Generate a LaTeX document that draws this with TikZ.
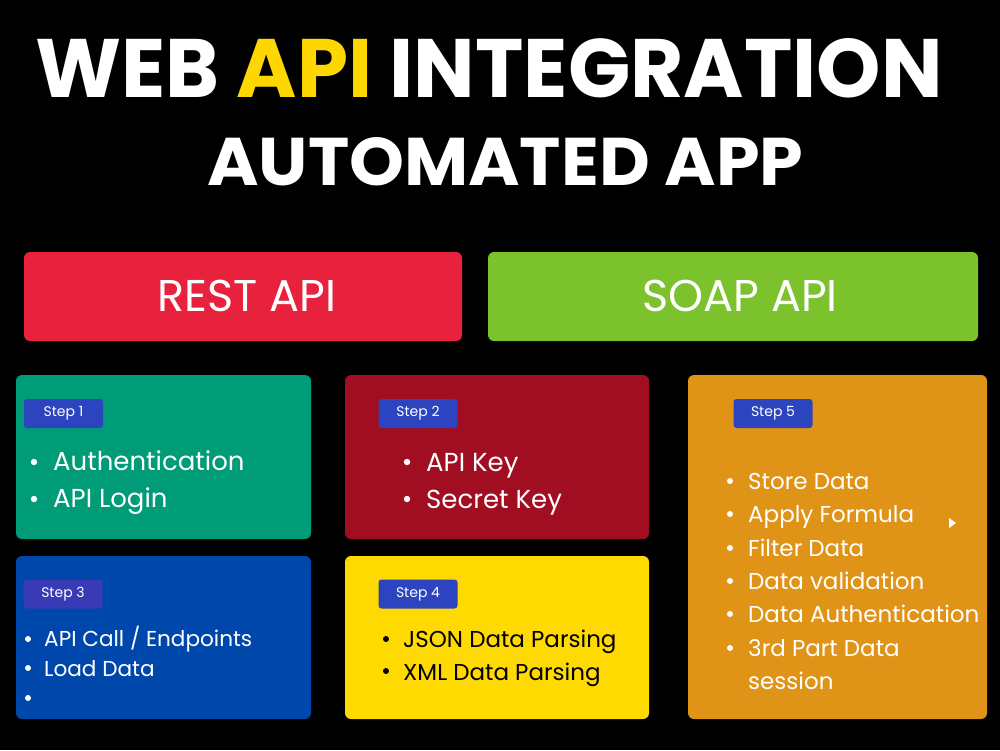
\documentclass[tikz,border=0pt]{standalone}
\usepackage{fontspec}
\setmainfont{Poppins}
\newfontfamily\bodyfont{Poppins}
\definecolor{restred}{HTML}{E8223C}
\definecolor{soapgreen}{HTML}{7BC22C}
\definecolor{tealbox}{HTML}{009B77}
\definecolor{wineBox}{HTML}{A10E22}
\definecolor{blueBox}{HTML}{0047AB}
\definecolor{yellowBox}{HTML}{FFDA00}
\definecolor{orangeBox}{HTML}{E09417}
\definecolor{badgeBlue}{HTML}{2C44BF}
\definecolor{titleYellow}{HTML}{FFD700}
\tikzset{
  panel/.style={fill=#1, rounded corners=6pt, draw=none},
  badge/.style={fill=badgeBlue, rounded corners=3pt, draw=none, minimum width=79pt, minimum height=29pt, inner sep=0pt, text=white, font=\bodyfont\fontsize{14}{14}\selectfont},
  item/.style={anchor=base west, inner sep=0pt, text=white, font=\bodyfont\fontsize{26}{26}\selectfont},
  smallitem/.style={anchor=base west, inner sep=0pt, text=white, font=\bodyfont\fontsize{23}{23}\selectfont},
  bignm/.style={text=white, inner sep=0pt, font=\bodyfont\fontsize{44.5}{44.5}\selectfont},
}
\begin{document}
\begin{tikzpicture}[x=1pt,y=-1pt]
\useasboundingbox[fill=black] (0,0) rectangle (1000,750);
% title
\node[anchor=south west, inner sep=0pt, text=white] (t1) at (35,98)
  {\resizebox{907pt}{59pt}{\bfseries WEB \textcolor{titleYellow}{API} INTEGRATION}};
\node[anchor=south west, inner sep=0pt, text=white] (t2) at (207,186)
  {\resizebox{596pt}{48pt}{\bfseries AUTOMATED APP}};
% api boxes
\path[panel=restred] (24,252) rectangle (462,341);
\node[bignm] (rest) at (247,296) {REST API};
\path[panel=soapgreen] (488,252) rectangle (978,341);
\node[bignm] (soap) at (740,296) {SOAP API};
% step panels
\path[panel=tealbox] (16,375) rectangle (311,539);
\path[panel=wineBox] (345,375) rectangle (649,539);
\path[panel=blueBox] (16,556) rectangle (311,719);
\path[panel=yellowBox] (345,556) rectangle (649,719);
\path[panel=orangeBox] (688,375) rectangle (987,719);
% badges
\node[badge] (s1) at (63.5,413.5) {Step 1};
\node[badge] (s2) at (418,413.5) {Step 2};
\node[badge, fill=badgeBlue!85!violet] (s3) at (63,594) {Step 3};
\node[badge] (s4) at (418,594) {Step 4};
\node[badge] (s5) at (773,413.5) {Step 5};
% step 1
\fill[white] (34,462) circle (3.2pt) (34,499) circle (3.2pt);
\node[item] (a1) at (53,470) {Authentication};
\node[item] (a2) at (53,507) {API Login};
% step 2
\fill[white] (407,462) circle (3.2pt) (407,499) circle (3.2pt);
\node[item] (b1) at (426,471) {API Key};
\node[item] (b2) at (426,508) {Secret Key};
% step 3
\fill[white] (28,639) circle (3pt) (28,668) circle (3pt) (28,698) circle (3pt);
\node[smallitem, font=\bodyfont\fontsize{21.6}{21.6}\selectfont] (c1) at (44,646) {API Call / Endpoints};
\node[smallitem, font=\bodyfont\fontsize{21.6}{21.6}\selectfont] (c2) at (44,676) {Load Data};
% step 4
\fill[black] (386,639) circle (3pt) (386,671) circle (3pt);
\node[smallitem, text=black] (d1) at (403,647) {JSON Data Parsing};
\node[smallitem, text=black] (d2) at (403,680) {XML Data Parsing};
% step 5
\foreach \y/\t [count=\i] in {489/Store Data, 522/Apply Formula, 556/Filter Data, 589/Data validation, 622/Data Authentication, 656/3rd Part Data}{
  \fill[white] (730,\y-8) circle (3pt);
  \node[smallitem] (e\i) at (748,\y) {\t};
}
\node[smallitem] (e7) at (748,689) {session};
\fill[white] (949,518) -- (956,523) -- (949,528) -- cycle;
\end{tikzpicture}
\end{document}
